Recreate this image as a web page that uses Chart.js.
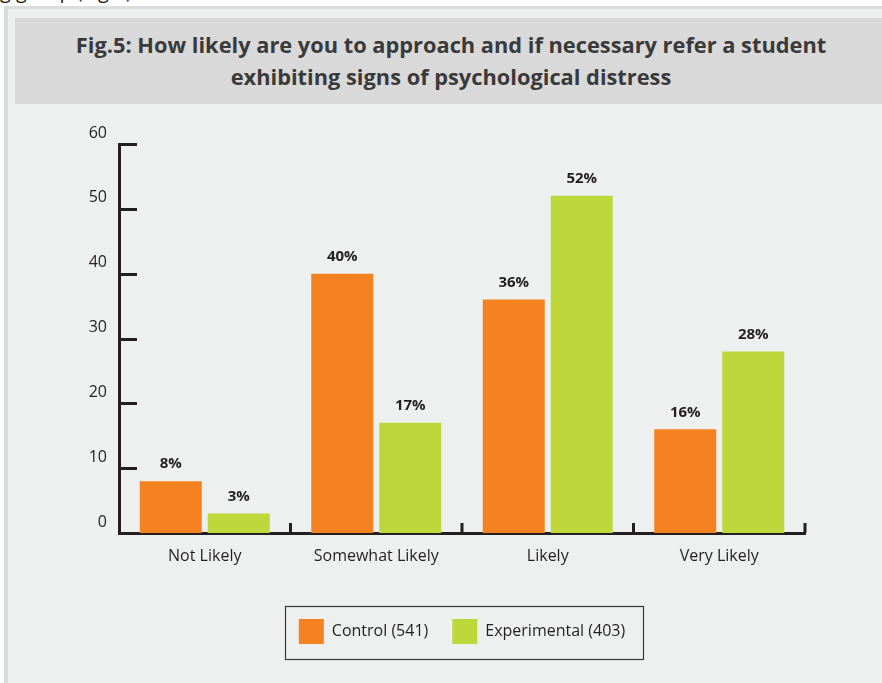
<!DOCTYPE html>
<html>
<head>
<meta charset="utf-8">
<script src="https://cdn.jsdelivr.net/npm/chart.js@4.4.1/dist/chart.umd.min.js"></script>
<style>
  html, body { margin: 0; padding: 0; background: #ffffff; overflow: hidden; }
  body { width: 882px; height: 683px; position: relative; font-family: 'Open Sans', sans-serif; }
  #lead { position: absolute; left: 0; top: -19px; font-family: 'Open Sans', sans-serif; font-size: 20px; line-height: 20px; color: #222; white-space: nowrap; }
  #frame { position: absolute; left: 4px; top: 6px; width: 900px; height: 700px;
           border-left: 4px solid #dcdcdc; border-top: 3px solid #dcdcdc; background: #eef0ef; }
  #band { position: absolute; left: 15px; top: 18px; width: 872px; height: 86px; background: #d9d9d9;
          display: flex; align-items: center; justify-content: center; text-align: center; }
  #band h1 { margin: 0; font-family: 'Open Sans', sans-serif; font-size: 21.8px; line-height: 32px; font-weight: 700; color: #3a3a3a; }
  #wrap { position: absolute; left: 0; top: 0; width: 882px; height: 683px; }
</style>
</head>
<body>
<div id="lead">g group (Fig.5)</div>
<div id="frame"></div>
<div id="band"><h1>Fig.5: How likely are you to approach and if necessary refer a student<br>exhibiting signs of psychological distress</h1></div>
<div id="wrap"><canvas id="chart" width="882" height="683"></canvas></div>
<script>
const categories = ['Not Likely', 'Somewhat Likely', 'Likely', 'Very Likely'];
const seriesNames = ['Control (541)', 'Experimental (403)'];
const controlValues = [8, 40, 36, 16];
const experimentalValues = [3, 17, 52, 28];
const yTicks = [0, 10, 20, 30, 40, 50, 60];

const INK = '#231f20';
const FONT = "'Open Sans', sans-serif";

// Value labels above each bar, e.g. "40%"
const valueLabels = {
  id: 'valueLabels',
  afterDatasetsDraw(chart) {
    const ctx = chart.ctx;
    ctx.save();
    ctx.font = "bold 15px " + FONT;
    ctx.fillStyle = INK;
    ctx.textAlign = 'center';
    ctx.textBaseline = 'middle';
    chart.data.datasets.forEach((ds, di) => {
      chart.getDatasetMeta(di).data.forEach((bar, i) => {
        ctx.fillText(ds.data[i] + '%', bar.x, bar.y - 17);
      });
    });
    ctx.restore();
  }
};

// Inward tick marks on the value axis and upward marks at category boundaries
const axisMarks = {
  id: 'axisMarks',
  afterDraw(chart) {
    const ctx = chart.ctx;
    const y = chart.scales.y;
    const area = chart.chartArea;
    ctx.save();
    ctx.strokeStyle = INK;
    ctx.lineWidth = 3;
    ctx.beginPath();
    yTicks.slice(1).forEach(v => {
      const py = Math.round(y.getPixelForValue(v)) + 0.5;
      ctx.moveTo(area.left, py);
      ctx.lineTo(area.left + 18, py);
    });
    const step = (area.right - area.left) / categories.length;
    for (let i = 1; i <= categories.length; i++) {
      const px = area.left + step * i;
      ctx.moveTo(px, area.bottom);
      ctx.lineTo(px, area.bottom - 10);
    }
    ctx.stroke();
    ctx.restore();
  }
};

// Thin frame around the legend entries
const legendFrame = {
  id: 'legendFrame',
  afterDraw(chart) {
    const boxes = chart.legend && chart.legend.legendHitBoxes;
    if (!boxes || !boxes.length) return;
    const left = Math.min(...boxes.map(b => b.left)) - 14;
    const right = Math.max(...boxes.map(b => b.left + b.width)) + 18;
    const top = boxes[0].top - 13;
    const bottom = boxes[0].top + 25 + 15;
    const ctx = chart.ctx;
    ctx.save();
    ctx.strokeStyle = '#3a3a3a';
    ctx.lineWidth = 1.2;
    ctx.strokeRect(Math.round(left) + 0.5, Math.round(top) + 0.5, Math.round(right - left), Math.round(bottom - top));
    ctx.restore();
  }
};

new Chart(document.getElementById('chart'), {
  type: 'bar',
  data: {
    labels: categories,
    datasets: [
      { label: seriesNames[0], data: controlValues, backgroundColor: '#f58220' },
      { label: seriesNames[1], data: experimentalValues, backgroundColor: '#bed73b' }
    ]
  },
  options: {
    responsive: false,
    animation: false,
    devicePixelRatio: 1,
    categoryPercentage: 0.793,
    barPercentage: 0.912,
    layout: { padding: { left: 0, right: 77, top: 144, bottom: 29 } },
    plugins: {
      title: { display: false },
      tooltip: { enabled: false },
      legend: {
        position: 'bottom',
        fullSize: false,
        labels: {
          boxWidth: 25, boxHeight: 25, padding: 24,
          color: INK, font: { family: FONT, size: 16 }
        }
      }
    },
    scales: {
      x: {
        grid: { display: false, drawTicks: false },
        border: { display: true, color: INK, width: 3 },
        ticks: { color: INK, padding: 14, font: { family: FONT, size: 16 } },
        afterFit(s) { s.height = 62; }
      },
      y: {
        min: 0, max: 60,
        grid: { display: false, drawTicks: false },
        border: { display: true, color: INK, width: 3 },
        afterBuildTicks(s) { s.ticks = yTicks.map(v => ({ value: v })); },
        ticks: { color: INK, padding: 12, labelOffset: -11, font: { family: FONT, size: 16 } },
        afterFit(s) { s.width = 119; }
      }
    }
  },
  plugins: [valueLabels, axisMarks, legendFrame]
});
</script>
</body>
</html>
